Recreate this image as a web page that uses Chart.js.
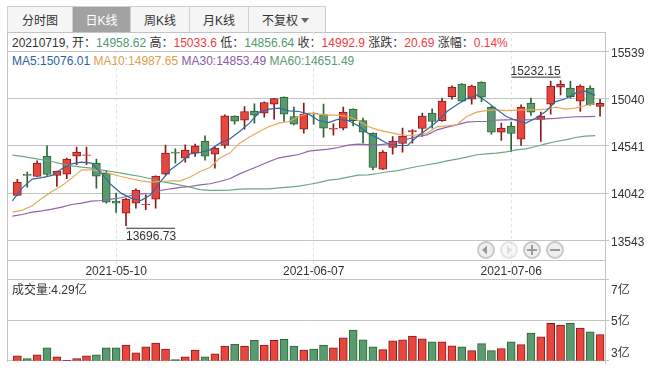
<!DOCTYPE html>
<html>
<head>
<meta charset="utf-8">
<script src="https://cdn.jsdelivr.net/npm/chart.js@4/dist/chart.umd.min.js"></script>
<style>
html, body { margin: 0; padding: 0; background: #fff; }
body { width: 663px; height: 370px; position: relative; overflow: hidden; font: 12px "Liberation Sans", "Noto Sans CJK SC", sans-serif; color: #333; }
canvas { position: absolute; left: 0; }
.tab { position: absolute; top: 6px; height: 25px; line-height: 28px; text-align: center; background: #f5f5f5; border: 1px solid #d0d0d0; border-bottom: 0; box-sizing: content-box; }
.tab.on { background: #a2a2a2; color: #fff; }
.row { position: absolute; left: 12px; white-space: pre; line-height: 14px; }
.frame { position: absolute; left: 7px; top: 32px; width: 597px; height: 329px; border: 1px solid #c4c4c4; border-bottom: 0; }
.rightEnd { position: absolute; left: 605px; top: 360px; width: 1px; height: 4px; background: #c4c4c4; }
.g { color: #53996e; } .r { color: #f03c3c; }
#nav { position: absolute; left: 476px; top: 240px; }
</style>
</head>
<body>
<div class="frame"></div>
<div class="rightEnd"></div>
<div class="tab" style="left:7px;width:64px">分时图</div>
<div class="tab on" style="left:72px;width:57px">日K线</div>
<div class="tab" style="left:130px;width:58px">周K线</div>
<div class="tab" style="left:189px;width:58px">月K线</div>
<div class="tab" style="left:248px;width:76px;text-align:left;text-indent:13px">不复权<span style="position:absolute;left:52px;top:11px;border:4px solid transparent;border-top:5px solid #666;border-bottom:0"></span></div>
<div class="row" style="top:36px">20210719, 开：<span class="g">14958.62</span> 高：<span class="r">15033.6</span> 低：<span class="g">14856.64</span> 收：<span class="r">14992.9</span> 涨跌：<span class="r">20.69</span> 涨幅：<span class="r">0.14%</span></div>
<div class="row" style="top:54px"><span style="color:#2b5f9e">MA5:15076.01</span> <span style="color:#e0a04e">MA10:14987.65</span> <span style="color:#8a5aa5">MA30:14853.49</span> <span style="color:#5a9a78">MA60:14651.49</span></div>
<canvas id="kChart" width="663" height="281" style="top:0"></canvas>
<canvas id="volChart" width="663" height="100" style="top:270px"></canvas>
<div class="row" style="top:283px">成交量:4.29亿</div>
<svg id="nav" width="90" height="20">
  <g fill="#efefef" stroke="#c8c8c8" stroke-width="2">
    <circle cx="10" cy="10" r="8"/>
    <circle cx="33" cy="10" r="8" opacity="0.5"/>
    <circle cx="56" cy="10" r="8"/>
    <circle cx="79" cy="10" r="8"/>
  </g>
  <path d="M6 10l5-4.500v9z" fill="#999"/>
  <path d="M36 10l-5-4.500v9z" fill="#ddd"/>
  <path d="M51 9h4v-4h2v4h4v2h-4v4h-2v-4h-4zM74 9h10v2h-10z" fill="#999"/>
</svg>
<script>
const dates = ['2021-04-21','2021-04-22','2021-04-23','2021-04-26','2021-04-27','2021-04-28','2021-04-29','2021-04-30','2021-05-06','2021-05-07',
  '2021-05-10','2021-05-11','2021-05-12','2021-05-13','2021-05-14','2021-05-17','2021-05-18','2021-05-19','2021-05-20','2021-05-21',
  '2021-05-24','2021-05-25','2021-05-26','2021-05-27','2021-05-28','2021-05-31','2021-06-01','2021-06-02','2021-06-03','2021-06-04',
  '2021-06-07','2021-06-08','2021-06-09','2021-06-10','2021-06-11','2021-06-15','2021-06-16','2021-06-17','2021-06-18','2021-06-21',
  '2021-06-22','2021-06-23','2021-06-24','2021-06-25','2021-06-28','2021-06-29','2021-06-30','2021-07-01','2021-07-02','2021-07-05',
  '2021-07-06','2021-07-07','2021-07-08','2021-07-09','2021-07-12','2021-07-13','2021-07-14','2021-07-15','2021-07-16','2021-07-19'];
const opens = [14017,14241,14218,14434,14229,14243,14434,14440,14360,14254,13958,13831,13936,13919,13979,14243,14476,14413,14466,14592,
  14455,14546,14857,14815,14910,14889,14984,15058,14853,14719,14889,14874,14719,14730,14931,14810,14677,14296,14525,14567,
  14691,14726,14889,14810,15064,15196,15037,15217,14952,14688,14751,14614,14995,14821,14984,15164,15153,15016,15153,14958.62];
const closes = [14159,14230,14360,14239,14275,14402,14476,14448,14222,13947,13936,13979,14074,13926,14222,14466,14466,14497,14540,14434,
  14518,14860,14804,14906,14868,15001,15043,14878,14772,14878,14881,14730,14730,14899,14810,14688,14313,14476,14592,14645,
  14705,14857,14800,15016,15164,15016,15174,15058,14688,14730,14673,14952,14899,14857,15174,15196,15064,15174,14977,14992.9];
const highs = [14188,14264,14384,14543,14275,14413,14529,14529,14402,14281,14042,13990,14088,14024,14225,14550,14511,14553,14561,14649,
  14530,14871,14860,14959,14987,15008,15045,15061,14952,14995,14892,14984,14775,14952,14935,14836,14680,14493,14641,14730,
  14715,14889,14934,15047,15178,15200,15185,15220,14960,14783,14793,14977,15047,14899,15225,15232.15,15225,15188,15178,15033.6];
const lows = [14017,14106,14218,14230,14112,14194,14342,14342,14095,13936,13837,13696.73,13884,13866,13884,14235,14360,14370,14430,14391,
  14307,14518,14772,14719,14783,14846,14825,14800,14765,14677,14772,14635,14656,14712,14754,14571,14289,14290,14455,14476,
  14571,14641,14730,14800,15037,15010,14984,15011,14667,14599,14482,14546,14863,14588,14878,15082,15047,14906,14969,14856.64];
const volumes = [3.24,3.10,3.29,3.63,3.19,3.02,3.10,3.24,3.29,3.63,3.63,3.77,3.39,3.68,3.87,3.58,3.05,3.19,3.53,3.19,
  3.34,3.72,3.82,3.72,4.01,3.77,4.01,4.06,3.72,3.53,3.58,3.77,3.64,4.13,4.51,4.03,3.69,3.55,3.98,4.03,
  4.22,4.08,3.93,3.93,3.74,3.69,3.50,3.84,3.50,3.60,3.93,3.79,4.37,4.18,4.85,4.76,4.85,4.61,4.42,4.29];
const ma5 = [13961,14098,14190,14207,14229,14299,14352,14370,14360,14254,14130,14042,13989,13964,14024,14165,14289,14366,14458,14472,
  14500,14571,14614,14694,14783,14899,14931,14942,14913,14906,14878,14810,14789,14825,14810,14754,14677,14624,14564,14546,
  14546,14641,14719,14800,14906,14977,15040,15082,15011,14931,14853,14810,14783,14836,14906,15011,15040,15100,15121,15076.01];
const ma10 = [13841,13862,13908,13989,14059,14120,14201,14289,14289,14271,14246,14218,14194,14172,14159,14165,14172,14172,14212,14271,
  14313,14413,14466,14571,14635,14694,14747,14783,14800,14853,14889,14878,14868,14868,14853,14810,14747,14712,14688,14667,
  14652,14659,14677,14744,14754,14765,14853,14899,14916,14924,14916,14920,14924,14924,14931,14952,14931,14942,14969,14987.65];
const ma30 = [13799,13816,13841,13855,13873,13894,13922,13937,13958,13964,13979,13993,14017,14035,14038,14070,14088,14102,14112,14130,
  14141,14165,14194,14246,14289,14331,14377,14416,14434,14451,14487,14497,14508,14525,14550,14561,14556,14553,14564,14588,
  14614,14641,14659,14712,14741,14765,14793,14800,14800,14815,14818,14821,14818,14821,14828,14832,14842,14850,14852,14853.49];
const ma60 = [14444,14430,14413,14395,14377,14352,14331,14317,14307,14289,14271,14254,14236,14218,14194,14165,14148,14127,14106,14080,
  14072,14072,14074,14085,14088,14088,14088,14098,14106,14116,14133,14154,14180,14190,14212,14233,14236,14250,14268,14281,
  14303,14324,14342,14360,14384,14402,14423,14448,14458,14465,14479,14500,14511,14535,14564,14588,14606,14631,14645,14651.49];
const priceTicks = [13543, 14042, 14541, 15040, 15539];
const volTicks = [3, 5, 7];
const dateTicks = [10, 30, 50];

const red = '#e8453c', redDark = '#8c1a1c', green = '#5a9a6f', greenDark = '#2a6435', gridGray = '#c4c4c4';
const isUp = closes.map((c, i) => c >= opens[i]);
const fills = isUp.map(u => u ? red : green);
const edges = isUp.map(u => u ? redDark : greenDark);

// lines sit half a slot left of the candles in the source chart
function maSet(values, color) {
    return {
        type: 'line',
        data: values.map((v, i) => ({ x: i - 0.5, y: v })),
        borderColor: color, borderWidth: 1.2, pointRadius: 0, tension: 0, order: 0
    };
}

const markers = {
    id: 'markers',
    afterDraw(chart) {
        const { ctx, scales: { x, y } } = chart;
        const hi = highs.indexOf(Math.max(...highs));
        const lo = lows.indexOf(Math.min(...lows));
        ctx.save();
        ctx.font = '12px "Liberation Sans"';
        ctx.fillStyle = '#333';
        ctx.strokeStyle = '#333';
        ctx.textBaseline = 'middle';
        // axis labels sit a bit under their grid line
        priceTicks.forEach(t => ctx.fillText(t, 611, y.getPixelForValue(t) + 2));
        const xHi = x.getPixelForValue(hi), yHi = y.getPixelForValue(highs[hi]);
        ctx.textAlign = 'right';
        ctx.fillText(highs[hi].toFixed(2), xHi, yHi - 8.5);
        ctx.beginPath(); ctx.moveTo(xHi - 49, yHi - 3.5); ctx.lineTo(xHi, yHi - 3.5); ctx.stroke();
        const xLo = x.getPixelForValue(lo), yLo = y.getPixelForValue(lows[lo]);
        ctx.textAlign = 'left';
        ctx.fillText(lows[lo].toFixed(2), xLo, yLo + 10.5);
        ctx.beginPath(); ctx.moveTo(xLo, yLo + 2.5); ctx.lineTo(xLo + 49, yLo + 2.5); ctx.stroke();
        ctx.restore();
    }
};

new Chart(document.getElementById('kChart'), {
    data: {
        datasets: [
            maSet(ma5, '#2f6a9f'), maSet(ma10, '#e6a95c'), maSet(ma30, '#9063ab'), maSet(ma60, '#6ba884'),
            {
                type: 'bar',
                data: opens.map((o, i) => ({ x: i, y: [o, closes[i]] })),
                backgroundColor: fills, borderColor: edges, borderWidth: 1, borderSkipped: false,
                barThickness: 8, grouped: false, order: 1
            },
            {
                type: 'bar',
                data: highs.map((h, i) => ({ x: i, y: [lows[i], h] })),
                backgroundColor: edges, barThickness: 1, grouped: false, order: 2
            }
        ]
    },
    options: {
        responsive: false,
        animation: false,
        layout: { padding: { left: 7.5, top: 32 } },
        plugins: { legend: { display: false }, tooltip: { enabled: false } },
        scales: {
            x: {
                type: 'linear', min: -1, max: 59.5, offset: false,
                afterBuildTicks: s => { s.ticks = dateTicks.map(v => ({ value: v })); },
                afterFit: s => { s.height = 20.3; },
                grid: { offset: false, color: '#e2e2e2', tickColor: '#e2e2e2', tickLength: 18, tickBorderDash: [3, 3] },
                border: { color: gridGray, dash: [3, 3] },
                ticks: {
                    padding: -14, maxRotation: 0, autoSkip: false, color: '#333',
                    font: { family: '"Liberation Sans"', size: 12 },
                    callback: v => dates[v]
                }
            },
            y: {
                position: 'right', min: 13327, max: 15747,
                afterBuildTicks: s => { s.ticks = priceTicks.map(v => ({ value: v })); },
                afterFit: s => { s.width = 58; },
                grid: { color: gridGray, tickLength: 4 },
                border: { display: false },
                ticks: { display: false }
            }
        }
    },
    plugins: [markers]
});

const volLabels = {
    id: 'volLabels',
    afterDraw(chart) {
        const { ctx, chartArea, scales: { y } } = chart;
        ctx.save();
        ctx.font = '12px "Liberation Sans", "Noto Sans CJK SC"';
        ctx.fillStyle = '#333';
        ctx.textBaseline = 'middle';
        volTicks.forEach(t => {
            const py = Math.min(Math.max(y.getPixelForValue(t), chartArea.top + 10), chartArea.bottom - 8);
            ctx.fillText(t + '亿', 611, py + 1);
        });
        ctx.restore();
    }
};

new Chart(document.getElementById('volChart'), {
    data: {
        datasets: [{
            type: 'bar',
            data: volumes.map((v, i) => ({ x: i, y: v })),
            backgroundColor: fills, borderColor: edges, borderWidth: 1, borderSkipped: false,
            barThickness: 8
        }]
    },
    options: {
        responsive: false,
        animation: false,
        layout: { padding: { left: 7.5, top: 9.7, bottom: 9.3 } },
        plugins: { legend: { display: false }, tooltip: { enabled: false } },
        scales: {
            x: { type: 'linear', min: -1, max: 59.5, offset: false, grid: { offset: false }, display: false },
            y: {
                position: 'right', min: 3, max: 7,
                afterBuildTicks: s => { s.ticks = volTicks.map(v => ({ value: v })); },
                afterFit: s => { s.width = 58; },
                grid: { color: gridGray, tickLength: 4 },
                border: { display: false },
                ticks: { display: false }
            }
        }
    },
    plugins: [volLabels]
});
</script>
</body>
</html>
